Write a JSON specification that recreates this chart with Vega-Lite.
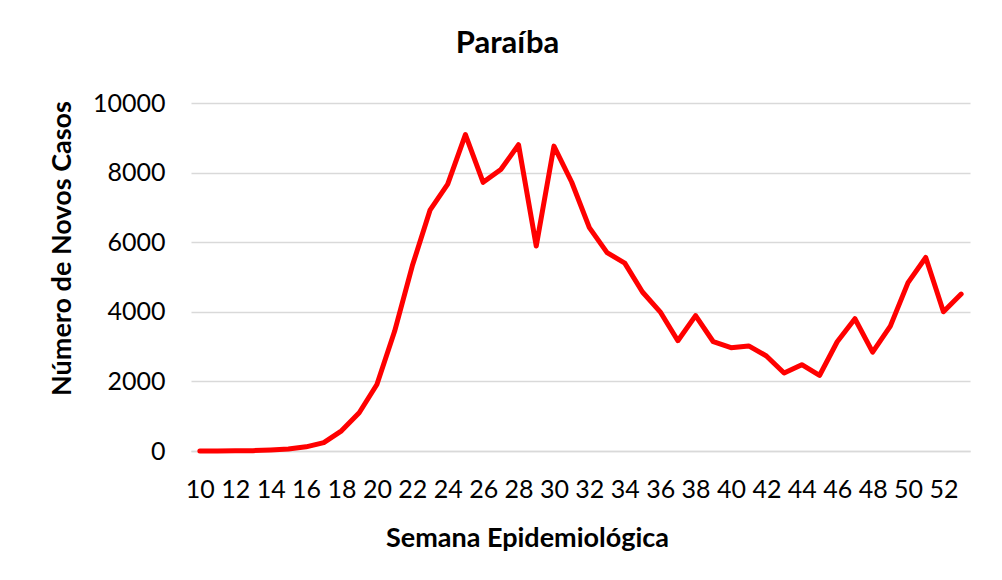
{
  "$schema": "https://vega.github.io/schema/vega-lite/v6.json",
  "autosize": "none",
  "padding": {"left": 191, "top": 103, "right": 32, "bottom": 129},
  "width": 779,
  "height": 348,
  "background": "white",
  "config": {"view": {"stroke": null}, "font": "Lato"},
  "title": {
    "text": "Paraíba",
    "font": "Lato",
    "fontSize": 31,
    "fontWeight": "bold",
    "color": "#000000",
    "anchor": "middle",
    "dx": -73,
    "offset": 31
  },
  "data": {
    "values": [
      {"semana": 10, "casos": 0},
      {"semana": 11, "casos": 0},
      {"semana": 12, "casos": 5},
      {"semana": 13, "casos": 10},
      {"semana": 14, "casos": 30},
      {"semana": 15, "casos": 60},
      {"semana": 16, "casos": 120},
      {"semana": 17, "casos": 240},
      {"semana": 18, "casos": 580},
      {"semana": 19, "casos": 1100},
      {"semana": 20, "casos": 1910},
      {"semana": 21, "casos": 3440},
      {"semana": 22, "casos": 5320},
      {"semana": 23, "casos": 6920},
      {"semana": 24, "casos": 7670},
      {"semana": 25, "casos": 9090},
      {"semana": 26, "casos": 7720},
      {"semana": 27, "casos": 8090},
      {"semana": 28, "casos": 8800},
      {"semana": 29, "casos": 5890},
      {"semana": 30, "casos": 8760},
      {"semana": 31, "casos": 7730},
      {"semana": 32, "casos": 6420},
      {"semana": 33, "casos": 5700},
      {"semana": 34, "casos": 5400},
      {"semana": 35, "casos": 4570},
      {"semana": 36, "casos": 4000},
      {"semana": 37, "casos": 3170},
      {"semana": 38, "casos": 3890},
      {"semana": 39, "casos": 3140},
      {"semana": 40, "casos": 2970},
      {"semana": 41, "casos": 3020},
      {"semana": 42, "casos": 2730},
      {"semana": 43, "casos": 2240},
      {"semana": 44, "casos": 2480},
      {"semana": 45, "casos": 2170},
      {"semana": 46, "casos": 3140},
      {"semana": 47, "casos": 3800},
      {"semana": 48, "casos": 2840},
      {"semana": 49, "casos": 3590},
      {"semana": 50, "casos": 4840},
      {"semana": 51, "casos": 5560},
      {"semana": 52, "casos": 4000},
      {"semana": 53, "casos": 4510}
    ]
  },
  "mark": {"type": "line", "color": "#ff0000", "strokeWidth": 5, "strokeJoin": "round", "strokeCap": "round"},
  "encoding": {
    "x": {
      "field": "semana",
      "type": "quantitative",
      "scale": {"domain": [9.5, 53.5], "nice": false, "zero": false},
      "axis": {
        "title": "Semana Epidemiológica",
        "values": [10,12,14,16,18,20,22,24,26,28,30,32,34,36,38,40,42,44,46,48,50,52],
        "format": "d",
        "grid": false,
        "domain": true,
        "domainColor": "#d9d9d9",
        "domainWidth": 1.5,
        "ticks": false,
        "tickSize": 0,
        "labelOverlap": false,
        "labelFont": "Lato",
        "labelFontSize": 25,
        "labelColor": "#000000",
        "labelPadding": 26,
        "titleFont": "Lato",
        "titleFontSize": 27,
        "titleFontWeight": "bold",
        "titleColor": "#000000",
        "titleX": 336,
        "titleY": 95,
        "titleBaseline": "alphabetic",
        "titleAnchor": null
      }
    },
    "y": {
      "field": "casos",
      "type": "quantitative",
      "scale": {"domain": [0, 10000], "nice": false},
      "axis": {
        "title": "Número de Novos Casos",
        "values": [0, 2000, 4000, 6000, 8000, 10000],
        "format": "d",
        "grid": true,
        "gridColor": "#d9d9d9",
        "gridWidth": 1.5,
        "domain": false,
        "ticks": false,
        "tickSize": 0,
        "labelFont": "Lato",
        "labelFontSize": 25,
        "labelColor": "#000000",
        "labelPadding": 26,
        "titleFont": "Lato",
        "titleFontSize": 27,
        "titleFontWeight": "bold",
        "titleColor": "#000000",
        "titleX": -121,
        "titleY": 145,
        "titleAngle": -90,
        "titleBaseline": "alphabetic",
        "titleAlign": "center"
      }
    }
  }
}
